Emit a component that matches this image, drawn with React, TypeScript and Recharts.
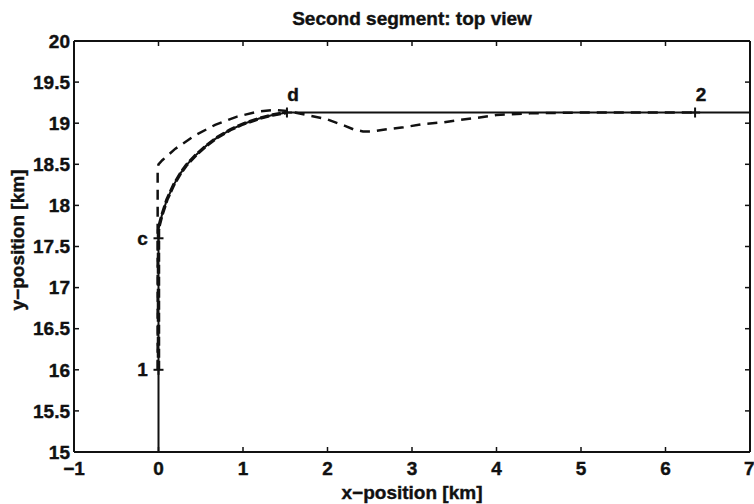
import React from 'react';
import { ComposedChart, Line, Scatter, XAxis, YAxis } from 'recharts';

const xTicks = [-1, 0, 1, 2, 3, 4, 5, 6, 7];
const yTicks = [15, 15.5, 16, 16.5, 17, 17.5, 18, 18.5, 19, 19.5, 20];

// planned path (thin solid)
const pathX = [0, 0, 0.01, 0.04, 0.1, 0.18, 0.26, 0.33, 0.45, 0.57, 0.7, 0.85, 1.0, 1.2, 1.35, 1.52, 7];
const pathY = [15, 17.7, 17.76, 17.88, 18.07, 18.25, 18.39, 18.49, 18.62, 18.73, 18.83, 18.92, 18.99, 19.06, 19.1, 19.13, 19.13];

// flown track 1 -> d (thick dashed)
const trackX = [0, 0, 0.01, 0.04, 0.1, 0.18, 0.26, 0.33, 0.45, 0.57, 0.7, 0.85, 1.0, 1.2, 1.35, 1.52];
const trackY = [16, 17.7, 17.76, 17.88, 18.07, 18.25, 18.39, 18.49, 18.62, 18.73, 18.83, 18.92, 18.99, 19.06, 19.1, 19.13];

// second trajectory (dashed)
const altX = [-0.01, -0.01, 0.0, 0.045, 0.2, 0.43, 0.67, 0.93, 1.17, 1.36, 1.52, 1.75, 1.99, 2.2, 2.32, 2.42, 2.52, 2.66, 2.9, 3.13, 3.37, 3.57, 3.8, 4.0, 4.4, 5.0, 6.35];
const altY = [16, 18.45, 18.5, 18.55, 18.69, 18.85, 18.98, 19.08, 19.14, 19.16, 19.15, 19.1, 19.05, 18.97, 18.92, 18.9, 18.9, 18.92, 18.95, 18.99, 19.01, 19.04, 19.07, 19.1, 19.12, 19.13, 19.13];

// waypoints
const markerNames = ['1', 'c', 'd', '2'];
const markerX = [0, 0, 1.52, 6.35];
const markerY = [16, 17.6, 19.13, 19.13];

const zip = (xs: number[], ys: number[]) => xs.map((x, i) => ({ x, y: ys[i] }));

const pathData = zip(pathX, pathY);
const trackData = zip(trackX, trackY);
const altData = zip(altX, altY);
const markerData = markerNames.map((name, i) => ({ name, x: markerX[i], y: markerY[i] }));

const FONT = '"Liberation Sans", Arial, Helvetica, sans-serif';
const INK = '#111';
const FS = 19;

const fmt = (v: number) => String(v).replace('-', '\u2212');

const textProps = {
  fontFamily: FONT,
  fontWeight: 'bold' as const,
  fontSize: FS,
  fill: INK,
  stroke: INK,
  strokeWidth: 0.4,
};

const WaypointShape = (props: any) => {
  const { cx, cy, payload } = props;
  if (cx == null || cy == null) return null;
  // labels on the vertical leg sit to the left, the others above-right
  const onLeg = payload.x === 0;
  const tx = onLeg ? cx - 16 : cx + 6;
  const ty = onLeg ? cy : cy - 18;
  return (
    <g>
      <line x1={cx - 5} y1={cy} x2={cx + 5} y2={cy} stroke={INK} strokeWidth={2} />
      <line x1={cx} y1={cy - 5} x2={cx} y2={cy + 5} stroke={INK} strokeWidth={2} />
      <text x={tx} y={ty} textAnchor="middle" dominantBaseline="central" {...textProps}>
        {payload.name}
      </text>
    </g>
  );
};

const axisLine = { stroke: INK, strokeWidth: 2 };
const tickLine = { stroke: INK, strokeWidth: 1.5 };

export default function App() {
  return (
    <div style={{ position: 'absolute', left: 0, top: 0, background: '#fff' }}>
      <ComposedChart width={754} height={504} margin={{ top: 40, right: 3, bottom: 0, left: 0 }}>
        <XAxis
          xAxisId={0}
          type="number"
          dataKey="x"
          domain={[-1, 7]}
          ticks={xTicks}
          allowDataOverflow
          height={52}
          tickSize={-5}
          tickMargin={15}
          tick={textProps}
          tickFormatter={fmt}
          axisLine={axisLine}
          tickLine={tickLine}
          label={{
            content: (p: any) => (
              <text x={p.viewBox.x + p.viewBox.width / 2} y={499} textAnchor="middle" {...textProps}>
                {'x\u2212position [km]'}
              </text>
            ),
          }}
        />
        <XAxis
          xAxisId="top"
          orientation="top"
          type="number"
          dataKey="x"
          domain={[-1, 7]}
          ticks={xTicks}
          allowDataOverflow
          height={1}
          tickSize={-5}
          tickFormatter={() => ''}
          axisLine={axisLine}
          tickLine={tickLine}
          label={{
            content: (p: any) => (
              <text x={p.viewBox.x + p.viewBox.width / 2} y={25} textAnchor="middle" {...textProps}>
                Second segment: top view
              </text>
            ),
          }}
        />
        <YAxis
          yAxisId={0}
          type="number"
          domain={[15, 20]}
          ticks={yTicks}
          allowDataOverflow
          width={74}
          tickSize={-5}
          tickMargin={9}
          tick={textProps}
          axisLine={axisLine}
          tickLine={tickLine}
          label={{
            content: () => (
              <text
                x={17}
                y={240}
                transform="rotate(-90 17 240)"
                textAnchor="middle"
                dominantBaseline="central"
                {...textProps}
              >
                {'y\u2212position [km]'}
              </text>
            ),
          }}
        />
        <YAxis
          yAxisId="right"
          orientation="right"
          type="number"
          domain={[15, 20]}
          ticks={yTicks}
          allowDataOverflow
          width={1}
          tickSize={-5}
          tickFormatter={() => ''}
          axisLine={axisLine}
          tickLine={tickLine}
        />
        <Line data={pathData} dataKey="y" type="linear" stroke={INK} strokeWidth={2} dot={false} isAnimationActive={false} />
        <Line data={trackData} dataKey="y" type="linear" stroke={INK} strokeWidth={3.5} strokeDasharray="9 3" dot={false} isAnimationActive={false} />
        <Line data={altData} dataKey="y" type="linear" stroke={INK} strokeWidth={2.5} strokeDasharray="10 7" dot={false} isAnimationActive={false} />
        <Scatter data={markerData} dataKey="y" shape={WaypointShape} isAnimationActive={false} />
      </ComposedChart>
    </div>
  );
}
